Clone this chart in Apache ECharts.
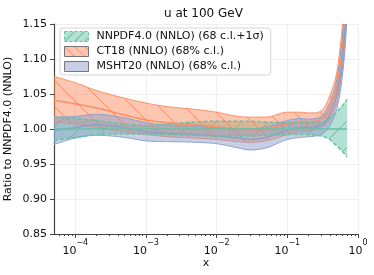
<!DOCTYPE html>
<html><head><meta charset="utf-8">
<script src="https://cdn.jsdelivr.net/npm/echarts@6/dist/echarts.min.js"></script>
<style>html,body{margin:0;padding:0;background:#fff}#c{width:374px;height:275px}</style>
</head><body><div id="c"></div>
<script>
// ---- data ----
const xVals = [5e-5, 1e-4, 2e-4, 5e-4, 1e-3, 2e-3, 5e-3, 1e-2, 2e-2, 3e-2, 5e-2, 0.1, 0.15, 0.2, 0.25, 0.3, 0.35, 0.4, 0.45, 0.5, 0.55, 0.6, 0.65, 0.7];

const nnLo  = [0.984, 0.988, 0.992, 0.993, 0.993, 0.992, 0.991, 0.990, 0.990, 0.990, 0.991, 0.992, 0.992, 0.992, 0.991, 0.990, 0.988, 0.985, 0.980, 0.976, 0.972, 0.968, 0.964, 0.960];
const nnCen = [1.000, 1.000, 1.000, 1.000, 1.000, 1.000, 1.000, 1.000, 1.000, 1.000, 1.000, 1.000, 1.000, 1.000, 1.000, 1.000, 1.000, 1.000, 1.000, 1.000, 1.000, 1.000, 1.000, 1.000];
const nnHi  = [1.017, 1.015, 1.012, 1.007, 1.005, 1.007, 1.010, 1.011, 1.011, 1.011, 1.010, 1.009, 1.009, 1.009, 1.010, 1.010, 1.012, 1.015, 1.020, 1.024, 1.029, 1.033, 1.038, 1.042];

const ctLo  = [1.010, 1.007, 1.002, 0.996, 0.992, 0.989, 0.987, 0.985, 0.982, 0.981, 0.983, 0.992, 0.996, 0.997, 0.999, 1.003, 1.007, 1.014, 1.024, 1.037, 1.058, 1.085, 1.120, 1.170];
const ctCen = [1.041, 1.036, 1.030, 1.020, 1.013, 1.009, 1.006, 1.003, 1.000, 0.999, 1.000, 1.008, 1.010, 1.010, 1.011, 1.014, 1.020, 1.030, 1.042, 1.058, 1.085, 1.115, 1.155, 1.210];
const ctHi  = [1.075, 1.066, 1.055, 1.044, 1.037, 1.032, 1.028, 1.024, 1.018, 1.017, 1.017, 1.024, 1.024, 1.023, 1.023, 1.026, 1.034, 1.048, 1.062, 1.080, 1.110, 1.145, 1.190, 1.250];

const msLo  = [0.978, 0.987, 0.991, 0.988, 0.983, 0.982, 0.981, 0.979, 0.973, 0.970, 0.973, 0.985, 0.988, 0.989, 0.990, 0.992, 0.997, 1.005, 1.015, 1.028, 1.048, 1.075, 1.110, 1.160];
const msCen = [0.998, 1.002, 1.006, 1.002, 0.996, 0.994, 0.992, 0.990, 0.987, 0.985, 0.988, 0.998, 1.002, 1.002, 1.003, 1.005, 1.011, 1.021, 1.033, 1.049, 1.071, 1.100, 1.140, 1.190];
const msHi  = [1.017, 1.018, 1.021, 1.016, 1.009, 1.006, 1.004, 1.002, 1.000, 1.000, 1.003, 1.012, 1.015, 1.014, 1.015, 1.018, 1.026, 1.038, 1.052, 1.070, 1.095, 1.130, 1.170, 1.220];

const seriesNames = ['NNPDF4.0 (NNLO) (68 c.l.+1σ)', 'CT18 (NNLO) (68% c.l.)', 'MSHT20 (NNLO) (68% c.l.)'];
const xMajorTicks = [1e-4, 1e-3, 1e-2, 1e-1, 1];
const xMinorTicks = [6e-5, 7e-5, 8e-5, 9e-5,
  2e-4, 3e-4, 4e-4, 5e-4, 6e-4, 7e-4, 8e-4, 9e-4,
  2e-3, 3e-3, 4e-3, 5e-3, 6e-3, 7e-3, 8e-3, 9e-3,
  2e-2, 3e-2, 4e-2, 5e-2, 6e-2, 7e-2, 8e-2, 9e-2,
  0.2, 0.3, 0.4, 0.5, 0.6, 0.7, 0.8, 0.9];

// ---- styles ----
const GREEN = '#66c2a5', ORANGE = '#fc8d62', BLUE = '#8da0cb';
function hatch(fill, stroke, dir, size) {
  const c = document.createElement('canvas');
  c.width = c.height = size;
  const g = c.getContext('2d');
  g.fillStyle = fill; g.fillRect(0, 0, size, size);
  if (stroke) {
    g.strokeStyle = stroke; g.lineWidth = 1;
    g.beginPath();
    if (dir === '\\') { g.moveTo(-2, -2); g.lineTo(size + 2, size + 2); }
    else { g.moveTo(-2, size + 2); g.lineTo(size + 2, -2); }
    g.stroke();
  }
  return { image: c, repeat: 'repeat' };
}
const nnPat = hatch('rgba(102,194,165,0.5)', 'rgba(80,170,140,0.75)', '/', 26);
const ctPat = hatch('rgba(252,141,98,0.5)', 'rgba(245,125,85,0.8)', '\\', 26);
const msFill = 'rgba(141,160,203,0.5)';
const nnLeg = hatch('rgba(102,194,165,0.5)', 'rgba(70,160,130,0.9)', '/', 10);
const ctLeg = hatch('rgba(252,141,98,0.5)', 'rgba(240,120,80,0.9)', '\\', 10);

// Hermite smoothing of already-projected pixel points (x increasing)
function smoothPx(p) {
  const n = p.length, m = [];
  for (let i = 0; i < n; i++) {
    const a = i > 0 ? (p[i][1] - p[i - 1][1]) / (p[i][0] - p[i - 1][0]) : null;
    const b = i < n - 1 ? (p[i + 1][1] - p[i][1]) / (p[i + 1][0] - p[i][0]) : null;
    m.push(a === null ? b : b === null ? a : (a * b <= 0 ? 0 : (a + b) / 2));
  }
  const out = [];
  for (let i = 0; i < n - 1; i++) {
    const x0 = p[i][0], x1 = p[i + 1][0], y0 = p[i][1], y1 = p[i + 1][1], h = x1 - x0;
    const steps = Math.max(2, Math.ceil(h / 2));
    for (let s = 0; s < steps; s++) {
      const t = s / steps, t2 = t * t, t3 = t2 * t;
      const y = (2 * t3 - 3 * t2 + 1) * y0 + (t3 - 2 * t2 + t) * h * m[i] + (-2 * t3 + 3 * t2) * y1 + (t3 - t2) * h * m[i + 1];
      out.push([x0 + t * h, y]);
    }
  }
  out.push(p[n - 1]);
  return out;
}

function clipRect(params) {
  const cs = params.coordSys;
  return { type: 'rect', shape: { x: cs.x, y: cs.y, width: cs.width, height: cs.height } };
}

function bandSeries(name, lo, hi, fill, color, edgeW, dash, z) {
  return {
    type: 'custom', name: name, z: z, silent: true,
    data: [[1e-3, 1.0]], encode: { x: 0, y: 1 },
    itemStyle: { color: color },
    renderItem: function (params, api) {
      const up = smoothPx(xVals.map((x, i) => api.coord([x, hi[i]])));
      const dn = smoothPx(xVals.map((x, i) => api.coord([x, lo[i]])));
      const children = [
        { type: 'polygon', shape: { points: up.concat(dn.slice().reverse()) }, style: { fill: fill, stroke: null } }
      ];
      if (edgeW > 0) {
        children.push({ type: 'polyline', shape: { points: up }, style: { fill: null, stroke: color, lineWidth: edgeW, lineDash: dash } });
        children.push({ type: 'polyline', shape: { points: dn }, style: { fill: null, stroke: color, lineWidth: edgeW, lineDash: dash } });
      }
      return { type: 'group', clipPath: clipRect(params), children: children };
    }
  };
}

function lineSeries(name, vals, color, width, dash, z) {
  return {
    type: 'custom', name: name, z: z, silent: true,
    data: [[1e-3, 1.0]], encode: { x: 0, y: 1 },
    itemStyle: { color: color },
    renderItem: function (params, api) {
      const pts = smoothPx(xVals.map((x, i) => api.coord([x, vals[i]])));
      return { type: 'group', clipPath: clipRect(params), children: [
        { type: 'polyline', shape: { points: pts }, style: { fill: null, stroke: color, lineWidth: width, lineDash: dash } }
      ] };
    }
  };
}

const series = [
  bandSeries(seriesNames[0], nnLo, nnHi, nnPat, GREEN, 0, null, 2),
  bandSeries(seriesNames[1], ctLo, ctHi, ctPat, ORANGE, 1, null, 3),
  bandSeries(seriesNames[2], msLo, msHi, msFill, BLUE, 1, null, 4),
  lineSeries('CT18 central', ctCen, ORANGE, 1.5, null, 5),
  lineSeries('MSHT20 central', msCen, BLUE, 1.5, null, 5),
  lineSeries('NNPDF upper', nnHi, GREEN, 1.5, [4, 2], 6),
  lineSeries('NNPDF lower', nnLo, GREEN, 1.5, [4, 2], 6),
  lineSeries('NNPDF central', nnCen, GREEN, 1.5, null, 6)
];

const chart = echarts.init(document.getElementById('c'), null, { renderer: 'canvas' });
const FONT = 'DejaVu Sans';
chart.setOption({
  animation: false,
  textStyle: { fontFamily: FONT },
  title: { text: 'u at 100 GeV', left: 159, top: 3, textStyle: { fontSize: 12, fontWeight: 'normal', color: '#111', fontFamily: FONT } },
  grid: { left: 54, right: 16, top: 24, bottom: 41, containLabel: false, outerBoundsMode: 'none' },
  legend: {
    orient: 'vertical', left: 60, top: 28, padding: [3, 7, 3, 4], itemGap: 4,
    itemWidth: 24, itemHeight: 10,
    backgroundColor: 'rgba(255,255,255,0.85)', borderColor: '#d5d5d5', borderWidth: 1, borderRadius: 3,
    textStyle: { fontSize: 11, color: '#111', fontFamily: FONT, padding: [0, 0, 0, 3] },
    data: [
      { name: seriesNames[0], icon: 'rect', itemStyle: { color: nnLeg, borderColor: GREEN, borderWidth: 1, borderType: [3, 2] } },
      { name: seriesNames[1], icon: 'rect', itemStyle: { color: ctLeg, borderColor: '#777', borderWidth: 1 } },
      { name: seriesNames[2], icon: 'rect', itemStyle: { color: msFill, borderColor: '#777', borderWidth: 1 } }
    ]
  },
  xAxis: [
    {
      type: 'log', min: 5e-5, max: 1, name: 'x', nameLocation: 'middle', nameGap: 24, nameMoveOverlap: false,
      nameTextStyle: { fontSize: 11, color: '#111', fontFamily: FONT },
      axisLine: { show: true, lineStyle: { color: '#444', width: 1.2 } },
      axisTick: { show: true, length: 4, lineStyle: { color: '#444' }, customValues: xMajorTicks },
      axisLabel: {
        customValues: xMajorTicks, margin: 5, color: '#111',
        formatter: v => '{b|10}{s|' + String(Math.round(Math.log10(v))).replace('-', '−') + '}',
        rich: { b: { fontSize: 11, lineHeight: 18, verticalAlign: 'bottom', fontFamily: FONT, color: '#111' },
                s: { fontSize: 8, lineHeight: 10, verticalAlign: 'top', fontFamily: FONT, color: '#111' } }
      },
      splitLine: { show: true, lineStyle: { color: '#efefef', width: 1 } }
    },
    {
      type: 'log', min: 5e-5, max: 1, position: 'bottom', gridIndex: 0,
      axisLine: { show: false },
      axisTick: { show: true, length: 2, lineStyle: { color: '#444' }, customValues: xMinorTicks },
      axisLabel: { show: false },
      splitLine: { show: false }
    }
  ],
  yAxis: {
    type: 'value', min: 0.85, max: 1.15, interval: 0.05,
    name: 'Ratio to NNPDF4.0 (NNLO)', nameLocation: 'middle', nameGap: 40, nameMoveOverlap: false,
    nameTextStyle: { fontSize: 11, color: '#111', fontFamily: FONT },
    axisLine: { show: true, lineStyle: { color: '#444', width: 1.2 } },
    axisTick: { show: true, length: 4, lineStyle: { color: '#444' } },
    axisLabel: { fontSize: 11, color: '#111', margin: 7, formatter: v => v.toFixed(2) },
    splitLine: { show: true, lineStyle: { color: '#efefef', width: 1 } }
  },
  series: series
});
</script>
</body></html>
